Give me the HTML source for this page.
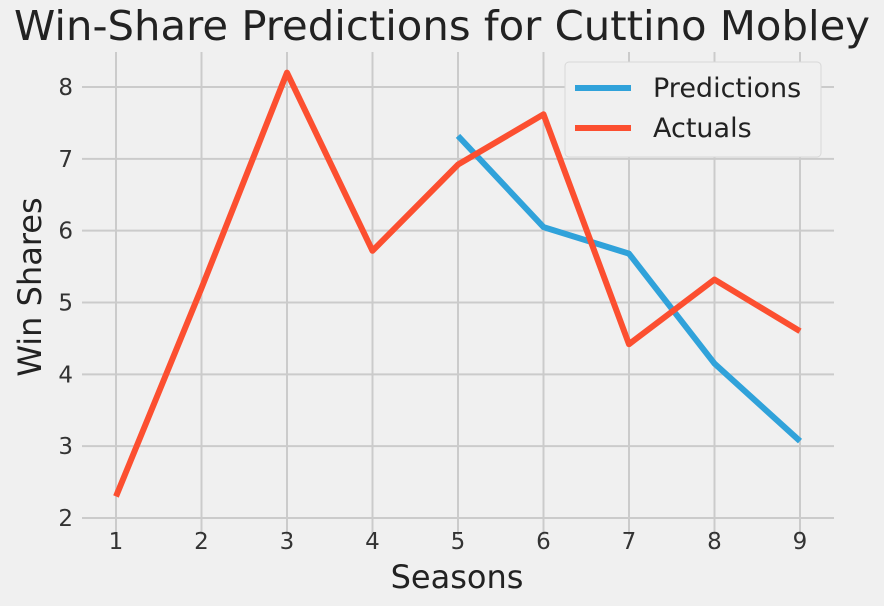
<!DOCTYPE html>
<html><head><meta charset="utf-8"><style>
body{margin:0;background:#f0f0f0;}
svg{display:block;font-family:"DejaVu Sans","Liberation Sans",sans-serif;}
</style></head><body>
<svg id="chart" width="884" height="606" viewBox="0 0 884 606">
<rect width="884" height="606" fill="#f0f0f0"/>
<text x="442" y="40" font-size="41" text-anchor="middle" fill="#222" textLength="856" lengthAdjust="spacingAndGlyphs">Win-Share Predictions for Cuttino Mobley</text>
<g id="grid"></g><g id="ticks"></g><g id="series"></g>
<text x="457" y="588" font-size="32" text-anchor="middle" fill="#222">Seasons</text>
<text transform="translate(41,287) rotate(-90)" font-size="32" text-anchor="middle" fill="#222">Win Shares</text>
<g>
<rect x="565" y="62" width="256" height="95" rx="4" fill="#f0f0f0" stroke="#d8d8d8"/>
<line x1="575" y1="88" x2="631" y2="88" stroke="#30a2da" stroke-width="6"/>
<text x="653" y="97" font-size="27" fill="#222">Predictions</text>
<line x1="575" y1="128" x2="631" y2="128" stroke="#fc4f30" stroke-width="6"/>
<text x="653" y="137" font-size="27" fill="#222">Actuals</text>
</g>
</svg>
<script>
const seasons=[1,2,3,4,5,6,7,8,9];
const actuals=[2.3,5.2,8.2,5.72,6.92,7.62,4.42,5.32,4.6];
const predSeasons=[5,6,7,8,9];
const predictions=[7.32,6.05,5.68,4.15,3.07];
const xTicks=[1,2,3,4,5,6,7,8,9];
const yTicks=[2,3,4,5,6,7,8];
const ns="http://www.w3.org/2000/svg";
const X=v=>116+(v-1)*85.5;
const Y=v=>518-(v-2)*71.83;
const grid=document.getElementById('grid'),ticks=document.getElementById('ticks'),series=document.getElementById('series');
function mk(tag,attrs,parent){const e=document.createElementNS(ns,tag);for(const k in attrs)e.setAttribute(k,attrs[k]);parent.appendChild(e);return e;}
xTicks.forEach(t=>{
 const l=mk('line',{x1:X(t),x2:X(t),y1:52,y2:535,stroke:'#cbcbcb','stroke-width':2},grid);
 
 
 const tx=mk('text',{x:X(t),y:549,'font-size':23,'text-anchor':'middle',fill:'#333'},ticks);
 tx.textContent=t;
 
 
});
yTicks.forEach(t=>{
 const l=mk('line',{x1:82,x2:834,y1:Y(t),y2:Y(t),stroke:'#cbcbcb','stroke-width':2},grid);
 
 
 const tx=mk('text',{x:73,y:Y(t)+8,'font-size':23,'text-anchor':'end',fill:'#333'},ticks);
 tx.textContent=t;
 
 
});
const p1=mk('polyline',{points:predSeasons.map((s,i)=>X(s)+','+Y(predictions[i])).join(' '),fill:'none',stroke:'#30a2da','stroke-width':6,'stroke-linejoin':'round'},series);


const p2=mk('polyline',{points:seasons.map((s,i)=>X(s)+','+Y(actuals[i])).join(' '),fill:'none',stroke:'#fc4f30','stroke-width':6,'stroke-linejoin':'round'},series);


</script>
</body></html>
